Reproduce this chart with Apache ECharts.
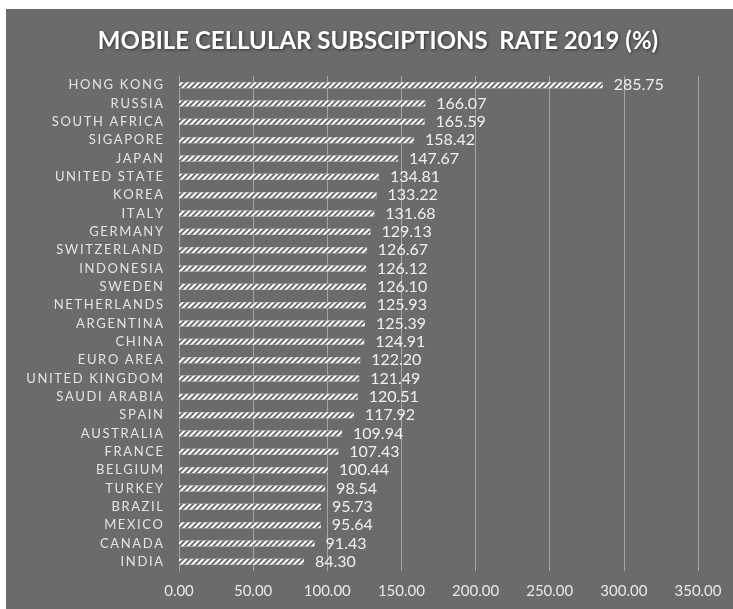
<!DOCTYPE html>
<html>
<head>
<meta charset="utf-8">
<script src="https://cdn.jsdelivr.net/npm/echarts@6/dist/echarts.min.js"></script>
<style>
  html, body { margin: 0; padding: 0; background: #ffffff; }
  #chart { width: 733px; height: 609px; }
</style>
</head>
<body>
<div id="chart"></div>
<script>
// Mobile cellular subscriptions per 100 people, 2019
const countries = [
  'HONG KONG', 'RUSSIA', 'SOUTH AFRICA', 'SIGAPORE', 'JAPAN', 'UNITED STATE',
  'KOREA', 'ITALY', 'GERMANY', 'SWITZERLAND', 'INDONESIA', 'SWEDEN',
  'NETHERLANDS', 'ARGENTINA', 'CHINA', 'EURO AREA', 'UNITED KINGDOM',
  'SAUDI ARABIA', 'SPAIN', 'AUSTRALIA', 'FRANCE', 'BELGIUM', 'TURKEY',
  'BRAZIL', 'MEXICO', 'CANADA', 'INDIA'
];
const rates = [
  285.75, 166.07, 165.59, 158.42, 147.67, 134.81,
  133.22, 131.68, 129.13, 126.67, 126.12, 126.10,
  125.93, 125.39, 124.91, 122.20, 121.49,
  120.51, 117.92, 109.94, 107.43, 100.44, 98.54,
  95.73, 95.64, 91.43, 84.30
];
const axisMax = 350;
const axisStep = 50;

const panel = '#6b6b6b';
const chart = echarts.init(document.getElementById('chart'));

// spread capital letters apart for the category labels
const spaced = s => s.split('').join('\u2009');

chart.setOption({
  backgroundColor: '#ffffff',
  animation: false,
  graphic: [{
    type: 'rect',
    z: -10,
    silent: true,
    shape: { x: 6, y: 9, width: 727, height: 600 },
    style: { fill: panel }
  }],
  title: {
    text: 'MOBILE CELLULAR SUBSCIPTIONS  RATE 2019 (%)',
    left: 373,
    top: 24,
    textAlign: 'center',
    textStyle: {
      fontFamily: 'Lato',
      fontSize: 24,
      fontWeight: 'bold',
      color: '#ffffff',
      textShadowColor: 'rgba(0,0,0,0.55)',
      textShadowBlur: 3,
      textShadowOffsetX: 1,
      textShadowOffsetY: 1
    }
  },
  grid: { left: 179, right: 35, top: 76, bottom: 38, containLabel: false },
  xAxis: {
    type: 'value',
    min: 0,
    max: axisMax,
    interval: axisStep,
    axisLine: { show: false },
    axisTick: { show: false },
    splitLine: { show: true, lineStyle: { color: '#a6a6a6', width: 1 } },
    axisLabel: {
      color: '#e8e8e8',
      fontFamily: 'Lato',
      fontSize: 15,
      margin: 13,
      formatter: v => v.toFixed(2)
    }
  },
  yAxis: {
    type: 'category',
    data: countries,
    inverse: true,
    axisLine: { show: true, lineStyle: { color: '#a6a6a6', width: 1 } },
    axisTick: { show: false },
    axisLabel: {
      color: '#e4e4e4',
      fontFamily: 'Lato',
      fontSize: 13,
      margin: 16,
      formatter: v => spaced(v)
    }
  },
  series: [{
    type: 'bar',
    data: rates,
    barWidth: 6,
    itemStyle: {
      color: '#ffffff',
      decal: {
        symbol: 'rect',
        symbolSize: 1,
        dashArrayX: [1, 0],
        dashArrayY: [2, 2],
        rotation: -Math.PI / 4,
        color: '#6b6b6b'
      }
    },
    label: {
      show: true,
      position: 'right',
      distance: 11,
      color: '#f0f0f0',
      fontFamily: 'Lato',
      fontSize: 16,
      formatter: p => p.value.toFixed(2)
    }
  }]
});
</script>
</body>
</html>
